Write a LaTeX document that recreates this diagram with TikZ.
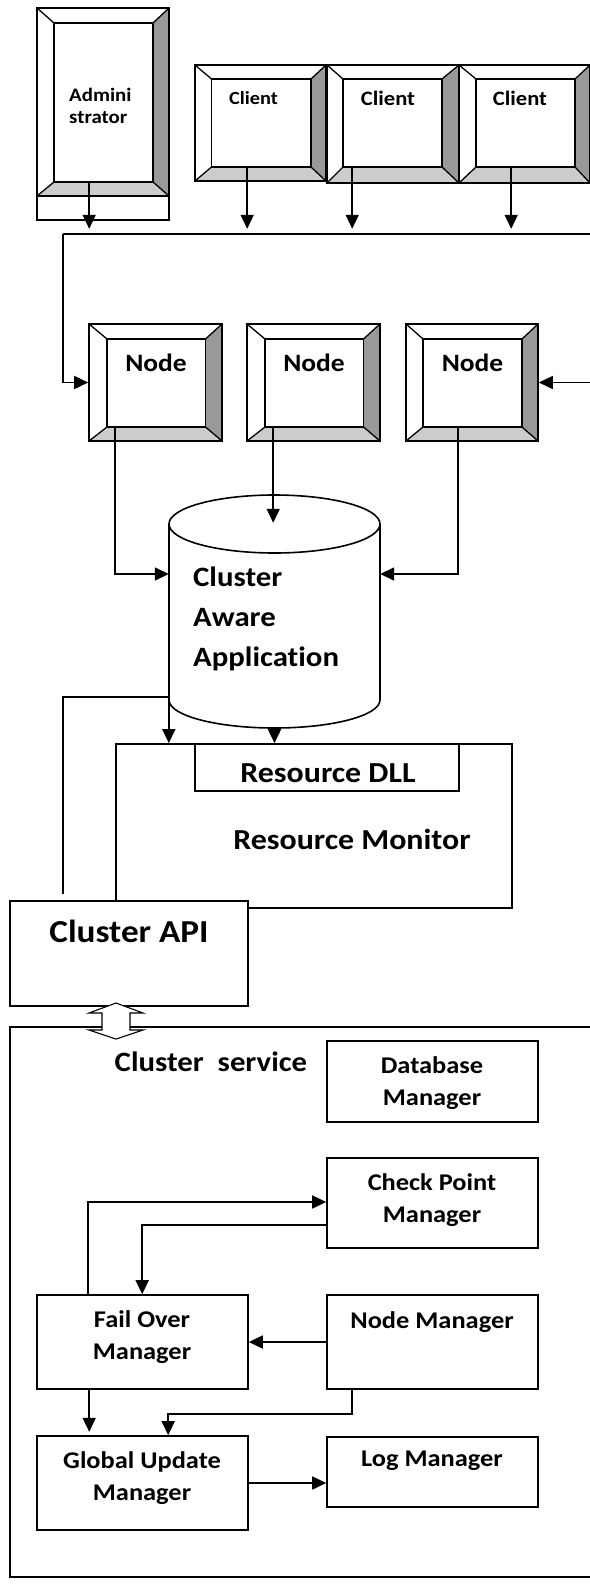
\documentclass[tikz,border=0pt]{standalone}
\usepackage{fontspec}
\setmainfont[FakeStretch=1.1,Ligatures=NoCommon]{Carlito}
\usetikzlibrary{arrows.meta,fit}
\definecolor{bevdark}{HTML}{999999}
\definecolor{bevlight}{HTML}{CCCCCC}
\newcommand\bevbox[9]{%
  \fill[white] (#2,#3) rectangle (#4,#5);
  \fill[bevlight] (#2,#5) -- (#4,#5) -- ({#4-#8},{#5-#9}) -- ({#2+#6},{#5-#9}) -- cycle;
  \fill[bevdark] (#4,#3) -- (#4,#5) -- ({#4-#8},{#5-#9}) -- ({#4-#8},{#3+#7}) -- cycle;
  \draw[bevline] (#2,#3) -- ({#2+#6},{#3+#7}) (#4,#3) -- ({#4-#8},{#3+#7})
                 (#2,#5) -- ({#2+#6},{#5-#9}) (#4,#5) -- ({#4-#8},{#5-#9});
  \node[boxline, inner sep=0, fit={(#2,#3) (#4,#5)}] (#1o) {};
  \node[boxline, inner sep=0, fit={({#2+#6},{#3+#7}) ({#4-#8},{#5-#9})}] (#1) {};
}
\begin{document}
\begin{tikzpicture}[x=1pt,y=-1pt,
  boxline/.style={draw, line width=1.6pt},
  bevline/.style={line width=1.3pt},
  arr/.style={line width=1.6pt, -{Triangle[length=14pt,width=13pt]}},
  plain/.style={line width=1.6pt},
  lbl/.style={inner sep=0, align=center},
]
\useasboundingbox[fill=white] (0,0) rectangle (589,1584);

% ---------- Administrator ----------
\node[boxline, inner sep=0, fit={(37,196) (169,220)}] (adminbase) {};
\bevbox{admin}{37}{8}{169}{196}{17}{15}{16}{14}
\node[lbl, align=left, anchor=west, font=\fontsize{19}{22.5}\selectfont\bfseries] (admintxt) at (69,106) {Admini\\strator};

% ---------- Clients ----------
\bevbox{cla}{195}{65}{326}{181}{16.5}{14}{15}{14}
\bevbox{clb}{327}{65}{459}{183}{16}{14}{17}{16}
\bevbox{clc}{459}{65}{590}{183}{17}{14}{15}{16}
\node[lbl, font=\fontsize{18.5}{20}\selectfont\bfseries] (clatxt) at (253.5,98) {Client};
\node[lbl, font=\fontsize{20.5}{22}\selectfont\bfseries] (clbtxt) at (388,98) {Client};
\node[lbl, font=\fontsize{20.5}{22}\selectfont\bfseries] (clctxt) at (520,98) {Client};

% ---------- bus ----------
\coordinate (busw) at (63,234);
\coordinate (buse) at (592,234);
\draw[arr] ([xshift=36pt]admin.south west) -- ++(0,46);
\draw[arr] ([xshift=36.5pt]cla.south west) -- ++(0,61);
\draw[arr] ([xshift=10pt]clb.south west) -- ++(0,61);
\draw[arr] ([xshift=36pt]clc.south west) -- ++(0,61);
\draw[plain] (busw) -- (buse);

% ---------- Nodes ----------
\bevbox{na}{89}{324}{222}{441}{18}{15}{16.5}{14}
\bevbox{nb}{247}{324}{380}{441}{18}{15}{16.5}{14}
\bevbox{nc}{406}{324}{538}{441}{17}{15}{16}{14}
\node[lbl, font=\fontsize{25}{26}\selectfont\bfseries] (natxt) at (156,363) {Node};
\node[lbl, font=\fontsize{25}{26}\selectfont\bfseries] (nbtxt) at (314,363) {Node};
\node[lbl, font=\fontsize{25}{26}\selectfont\bfseries] (nctxt) at (472.5,363) {Node};
\draw[arr] (busw) |- (nao.west);
\draw[arr] (buse) |- (nco.east);

% ---------- Cylinder ----------
\fill[white] (169,524) -- (169,700) arc[start angle=180, end angle=360, x radius=105.5pt, y radius=28pt] -- (380,524) -- cycle;
\draw[plain] (169,524) -- (169,700) arc[start angle=180, end angle=360, x radius=105.5pt, y radius=28pt] -- (380,524);
\draw[plain, fill=white] (274.5,524) ellipse [x radius=105.5pt, y radius=29pt];
\node[inner sep=0, fit={(169,495) (380,728)}] (cyl) {};
\node[lbl, align=left, anchor=west, font=\fontsize{28}{40}\selectfont\bfseries] (cyltxt) at (193,619) {Cluster\\Aware\\Application};

\draw[arr] ([xshift=9pt]na.south west) |- ([yshift=37.5pt]cyl.west);
\draw[arr] ([xshift=9pt]nb.south west) -- ++(0,95);
\draw[arr] ([xshift=36pt]nc.south west) |- ([yshift=37.5pt]cyl.east);

% ---------- Resource monitor / API ----------
\node[boxline, inner sep=0, fit={(116,744) (512,908)}] (resmon) {};
\node[boxline, inner sep=0, fit={(195,744) (459,791)}] (resdll) {};
\node[lbl, font=\fontsize{29}{30}\selectfont\bfseries] (resdlltxt) at (328,773) {Resource DLL};
\node[lbl, font=\fontsize{29}{30}\selectfont\bfseries] (resmontxt) at (352,839) {Resource\ Monitor};
\node[boxline, fill=white, inner sep=0, fit={(10,901) (248,1006)}] (cluapi) {};
\node[lbl, font=\fontsize{32}{34}\selectfont\bfseries] (cluapitxt) at (129,931) {Cluster API};

\draw[plain] ([yshift=-85.5pt]cyl.west) -| ([xshift=54pt,yshift=6pt]cluapi.north west);
\draw[arr] ([yshift=-88.5pt]cyl.west) -- (cyl.west |- resmon.north);
\draw[arr] (cyl.south) -- (cyl.south |- resmon.north);

% ---------- Cluster service ----------
\node[boxline, inner sep=0, fit={(10,1027) (592,1577)}] (clsvc) {};
\node[lbl, font=\fontsize{28}{30}\selectfont\bfseries] (clsvctxt) at (211,1062) {Cluster\ \ service};
\draw[line width=1.1pt, fill=white] (116,1003) -- (143,1013) -- (130,1013) -- (130,1030) -- (143,1030) -- (116,1039)
   -- (89,1030) -- (102,1030) -- (102,1013) -- (89,1013) -- cycle;

\node[boxline, inner sep=0, fit={(327,1041) (538,1122)}] (dbm) {};
\node[boxline, inner sep=0, fit={(327,1158) (538,1248)}] (cpm) {};
\node[boxline, inner sep=0, fit={(37,1295) (248,1389)}] (fom) {};
\node[boxline, inner sep=0, fit={(327,1295) (538,1389)}] (nm) {};
\node[boxline, inner sep=0, fit={(37,1436) (248,1530)}] (gub) {};
\node[boxline, inner sep=0, fit={(327,1437) (538,1507)}] (lm) {};

\node[lbl, font=\fontsize{24}{32}\selectfont\bfseries] (dbmtxt) at (432,1083) {Database\\Manager};
\node[lbl, font=\fontsize{24}{32}\selectfont\bfseries] (cpmtxt) at (432,1200.5) {Check Point\\Manager};
\node[lbl, font=\fontsize{24}{32}\selectfont\bfseries] (fomtxt) at (142,1337) {Fail Over\\Manager};
\node[lbl, font=\fontsize{24}{32}\selectfont\bfseries] (nmtxt) at (432,1322) {Node Manager};
\node[lbl, font=\fontsize{24}{32}\selectfont\bfseries] (gubtxt) at (142,1478) {Global Update\\Manager};
\node[lbl, font=\fontsize{24}{32}\selectfont\bfseries] (lmtxt) at (432,1461) {Log Manager};

\draw[arr] ([xshift=52pt]fom.north west) |- ([yshift=1pt]cpm.west);
\draw[arr] ([yshift=-22pt]cpm.west) -| ([xshift=106pt]fom.north west);
\draw[arr] (nm.west) -- (nm.west -| fom.east);
\draw[arr] ([xshift=53pt]fom.south west) -- ++(0,42);
\draw[arr] ([xshift=26pt]nm.south west) -- ++(0,24) -| ([xshift=132pt]gub.north west);
\draw[arr] (gub.east) -- (gub.east -| lm.west);
\end{tikzpicture}
\end{document}
